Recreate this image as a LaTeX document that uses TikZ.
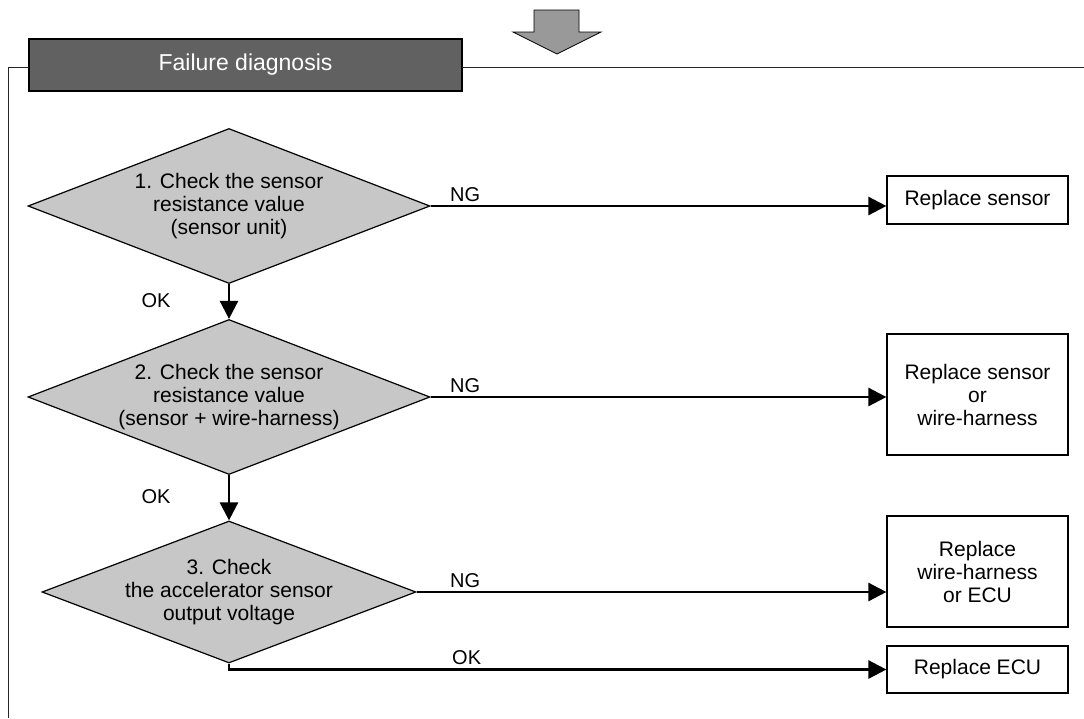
\documentclass[tikz,border=0pt]{standalone}
\usepackage{fontspec}
\setmainfont{Liberation Sans}
\usetikzlibrary{shapes.geometric,arrows.meta}
\begin{document}
\begin{tikzpicture}[x=1pt, y=-1pt,
  font=\fontsize{21}{23}\selectfont,
  check/.style={diamond, draw, line width=1.2pt, fill=black!22,
                align=center, inner sep=-4pt, shape aspect=2.6,
                minimum width=402pt, minimum height=155pt},
  result/.style={draw, line width=1.2pt, align=center,
                 minimum width=181pt, minimum height=#1},
  title/.style={draw, line width=1.5pt, fill=black!62, text=white,
                minimum width=433pt, minimum height=52pt,
                font=\fontsize{23}{27}\selectfont},
  lbl/.style={inner sep=0pt, font=\fontsize{20}{22}\selectfont},
  frame/.style={line width=1pt, black!85},
  arr/.style={-{Triangle[length=18pt, width=18pt]}, line width=2.6pt}
]
  \useasboundingbox (0,0) rectangle (1084,718);

  \draw[line width=0.8pt, fill=black!40]
    (534,10) -- (579,10) -- (579,32) -- (601,32) -- (557,54)
    -- (513,32) -- (534,32) -- cycle;

  \node[title] (hdr) at (245.5,65) {Failure diagnosis};
  \draw[frame] (29,67) -| (8,718);
  \draw[frame] (462,67) -- (1084,67);

  \node[check] (chk1) at (229,206)
        {1. Check the sensor\\resistance value\\(sensor unit)};
  \node[check] (chk2) at (229,397)
        {2. Check the sensor\\resistance value\\(sensor + wire-harness)};
  \node[check, minimum width=374pt, minimum height=142pt] (chk3) at (229,592)
        {3. Check\\the accelerator sensor\\output voltage};

  \node[result=48pt]  (res1) at (977.5,200)   {Replace sensor};
  \node[result=121pt] (res2) at (977.5,394.5) {Replace sensor\\or\\wire-harness};
  \node[result=111pt] (res3) at (977.5,571.5) {Replace\\wire-harness\\or ECU};
  \node[result=47pt]  (res4) at (977.5,669.5) {Replace ECU};

  \draw[arr] (chk1) -- (chk2);
  \draw[arr] (chk2) -- (chk3);
  \draw[arr] (chk1.east) -- (chk1.east -| res1.west);
  \draw[arr] (chk2.east) -- (chk2.east -| res2.west);
  \draw[arr] (chk3.east) -- (chk3.east -| res3.west);
  \draw[arr] (chk3.south) |- (res4.west);

  \node[lbl, anchor=base west] (ng1) at (450,201) {NG};
  \node[lbl, anchor=base west] (ng2) at (450,392) {NG};
  \node[lbl, anchor=base west] (ng3) at (450,587) {NG};
  \node[lbl, anchor=base west] (ok3) at (452,664) {OK};
  \node[lbl] (ok1) at (156,301) {OK};
  \node[lbl] (ok2) at (156,497) {OK};
\end{tikzpicture}
\end{document}
